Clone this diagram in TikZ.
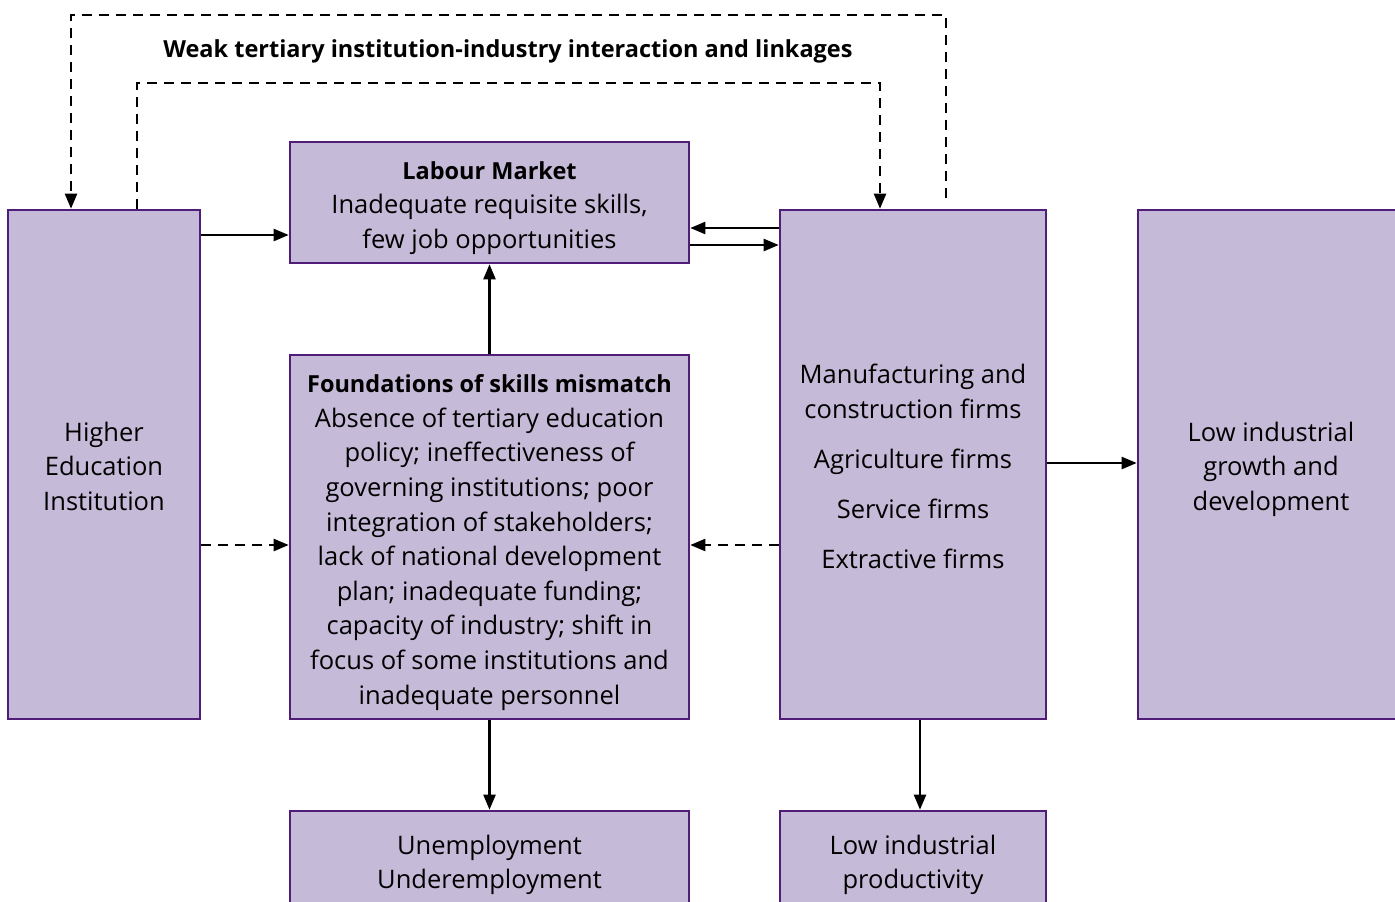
\documentclass[tikz,border=0pt]{standalone}
\usepackage{fontspec}
\setmainfont{Open Sans}
\usetikzlibrary{arrows.meta}
\definecolor{boxfill}{RGB}{197,186,215}
\definecolor{boxline}{RGB}{80,30,120}
\newcommand{\hdr}[1]{{\fontsize{23.5}{34.6}\selectfont\bfseries #1}}
\newcommand{\bt}[1]{\raisebox{-4.5pt}[\height][\depth]{\begin{tabular}{@{}c@{}}#1\end{tabular}}}
\begin{document}
\begin{tikzpicture}[x=1pt,y=-1pt,
  box/.style={draw=boxline, fill=boxfill, line width=2.6pt, inner sep=0pt, align=center,
    font=\fontsize{25.5}{34.6}\selectfont},
  conn/.style={line width=2.3pt, -{Triangle[length=15pt,width=12pt]}},
  dconn/.style={conn, dash pattern=on 10pt off 7pt}]
\useasboundingbox (0,0) rectangle (1395,902);
\fill[white] (0,0) rectangle (1395,902);
\clip (0,0) rectangle (1395,902);
% boxes
\node[box, minimum width=192pt, minimum height=509pt] (hei) at (104,464.5) {\bt{Higher\\Education\\Institution}};
\node[box, minimum width=399pt, minimum height=121pt] (lm) at (489.5,202.5) {\bt{\hdr{Labour Market}\\Inadequate requisite skills,\\few job opportunities}};
\node[box, minimum width=399pt, minimum height=364pt] (found) at (489.5,537) {\bt{\hdr{Foundations of skills mismatch}\\Absence of tertiary education\\policy; ineffectiveness of\\governing institutions; poor\\integration of stakeholders;\\lack of national development\\plan; inadequate funding;\\capacity of industry; shift in\\focus of some institutions and\\inadequate personnel}};
\node[box, minimum width=266pt, minimum height=509pt] (firms) at (913,464.5) {\bt{Manufacturing and\\construction firms\\[16pt]Agriculture firms\\[15.5pt]Service firms\\[15pt]Extractive firms}};
\node[box, minimum width=266pt, minimum height=509pt] (growth) at (1271,464.5) {\bt{Low industrial\\growth and\\development}};
\node[box, minimum width=399pt, minimum height=98pt] (unemp) at (489.5,860) {\bt{Unemployment\\Underemployment}};
\node[box, minimum width=266pt, minimum height=98pt] (lowprod) at (913,860) {\bt{Low industrial\\productivity}};
\node[font=\fontsize{23.5}{30}\selectfont\bfseries] (lbl) at (508,51) {Weak tertiary institution-industry interaction and linkages};
% connectors
\draw[conn] (hei.east |- 0,235) -- (lm.west |- 0,235);
\draw[conn] (firms.west |- 0,228) -- (lm.east |- 0,228);
\draw[conn] (lm.east |- 0,245) -- (firms.west |- 0,245);
\draw[conn] (found.north) -- (lm.south);
\draw[dconn] (hei.east |- 0,545) -- (found.west |- 0,545);
\draw[dconn] (firms.west |- 0,545) -- (found.east |- 0,545);
\draw[conn] (firms.east |- 0,463) -- (growth.west |- 0,463);
\draw[conn] (found.south) -- (unemp.north);
\draw[conn] (firms.south -| 920,0) -- (lowprod.north -| 920,0);
\coordinate (o1) at (946,198);
\draw[dconn] (o1) -- (946,15) -- (71,15) -- (hei.north -| 71,0);
\draw[dconn] (hei.north -| 137,0) -- (137,83) -- (880,83) -- (firms.north -| 880,0);
\end{tikzpicture}
\end{document}
